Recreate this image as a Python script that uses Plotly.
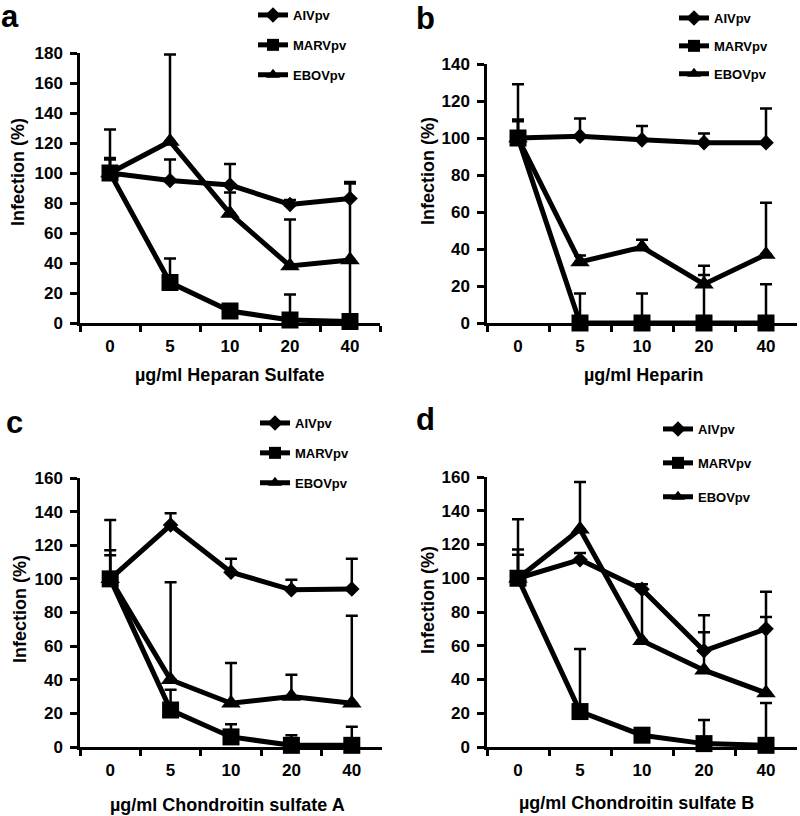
import plotly.graph_objects as go

# ---------------- data ----------------
conc = ["0", "5", "10", "20", "40"]
series_names = ["AIVpv", "MARVpv", "EBOVpv"]

a_aiv = [100, 95, 92, 79, 83]
a_aiv_err = [10, 14, 14, 3, 10]
a_marv = [100, 27, 8, 2, 1]
a_marv_err = [29, 16, 4, 17, 40]
a_ebov = [100, 121, 73, 38, 42]
a_ebov_err = [9, 58, 14, 31, 52]

b_aiv = [100, 101, 99, 97.5, 97.5]
b_aiv_err = [10, 9.5, 7.5, 5, 18.5]
b_marv = [100, 0, 0, 0, 0]
b_marv_err = [29, 16, 16, 26, 21]
b_ebov = [100, 33, 41, 21, 37]
b_ebov_err = [9, 3.5, 4, 10, 28]

c_aiv = [100, 132, 104, 93.5, 94]
c_aiv_err = [35, 7, 8, 6, 18]
c_marv = [100, 22, 6, 1, 1]
c_marv_err = [17, 12, 7.5, 6, 11]
c_ebov = [100, 40, 26, 30, 26]
c_ebov_err = [14, 58, 24, 13, 52]

d_aiv = [100, 111, 93.5, 57, 70]
d_aiv_err = [35, 4, 3, 21, 22]
d_marv = [100, 21, 7, 2, 1]
d_marv_err = [17, 37, 3, 14, 25]
d_ebov = [100, 129, 63, 45.5, 32]
d_ebov_err = [14, 28, 30, 22.5, 45]

panel_letters = ["a", "b", "c", "d"]
x_titles = ["µg/ml Heparan Sulfate", "µg/ml Heparin",
            "µg/ml Chondroitin sulfate A", "µg/ml Chondroitin sulfate B"]
y_max = [180, 140, 160, 160]

panels = [
    [(a_aiv, a_aiv_err), (a_marv, a_marv_err), (a_ebov, a_ebov_err)],
    [(b_aiv, b_aiv_err), (b_marv, b_marv_err), (b_ebov, b_ebov_err)],
    [(c_aiv, c_aiv_err), (c_marv, c_marv_err), (c_ebov, c_ebov_err)],
    [(d_aiv, d_aiv_err), (d_marv, d_marv_err), (d_ebov, d_ebov_err)],
]

# ---------------- layout geometry (pixels) ----------------
W, H = 800, 816
FONT = "Liberation Sans, Arial, sans-serif"
# (x0, x1, y_bottom, y_top) in pixels
boxes = [(80, 380, 323, 53), (487, 797, 323, 64),
         (80, 382, 747, 478), (487, 797, 747, 477)]
legend_pos = [(253, 0), (674, 3), (255, 408), (658, 414)]
legend_gap = [10, 8, 10, 14]
letter_pos = [(10, 16), (425, 18), (14, 422), (425, 420)]
xtitle_pos = [(230, 375), (643, 375), (228, 805), (636, 803)]
ytitle_pos = [(18, 172), (428, 171), (20, 609), (428, 600)]

symbols = ["diamond", "square", "triangle-up"]
sizes = [12, 17, 17]

fig = go.Figure()
layout = dict(width=W, height=H,
              margin=dict(l=0, r=0, t=0, b=0, autoexpand=False),
              paper_bgcolor="white", plot_bgcolor="white",
              font=dict(family=FONT, color="black", size=17, weight="bold"),
              showlegend=True, annotations=[])

for p in range(4):
    xa = "x" if p == 0 else f"x{p+1}"
    ya = "y" if p == 0 else f"y{p+1}"
    lg = "legend" if p == 0 else f"legend{p+1}"
    for s in range(3):
        vals, errs = panels[p][s]
        fig.add_trace(go.Scatter(
            x=conc, y=vals, name=series_names[s], mode="lines+markers",
            xaxis=xa, yaxis=ya, legend=lg,
            line=dict(color="black", width=5),
            marker=dict(symbol=symbols[s], size=sizes[s], color="black"),
            error_y=dict(type="data", array=errs, arrayminus=[0] * len(errs),
                         symmetric=False, color="black", thickness=2.5, width=6),
            legendgroup=f"{p}-{s}", cliponaxis=False,
        ))
    x0, x1, yb, yt = boxes[p]
    axk = "xaxis" if p == 0 else f"xaxis{p+1}"
    ayk = "yaxis" if p == 0 else f"yaxis{p+1}"
    layout[axk] = dict(domain=[x0 / W, x1 / W], anchor=ya, type="category",
                       range=[-0.5, 4.5], tickson="boundaries", ticks="outside",
                       ticklen=6, tickwidth=2.5, tickcolor="black",
                       showline=True, linecolor="black", linewidth=2.5,
                       showgrid=False, zeroline=False, ticklabelstandoff=6,
                       tickfont=dict(size=17, family=FONT, weight="bold"))
    layout[ayk] = dict(domain=[1 - yb / H, 1 - yt / H], anchor=xa,
                       range=[0, y_max[p]], dtick=20, ticks="outside",
                       ticklen=7, tickwidth=2.5, tickcolor="black",
                       showline=True, linecolor="black", linewidth=2.5,
                       showgrid=False, zeroline=False, ticklabelstandoff=4,
                       tickfont=dict(size=17, family=FONT, weight="bold"))
    lx, ly = legend_pos[p]
    layout[lg] = dict(x=lx / W, y=1 - ly / H, xanchor="left", yanchor="top",
                      bgcolor="rgba(0,0,0,0)", tracegroupgap=legend_gap[p],
                      itemsizing="constant",
                      font=dict(size=13, family=FONT, weight="bold"))
    lx, ly = letter_pos[p]
    layout["annotations"].append(dict(
        text=panel_letters[p], x=lx / W, y=1 - ly / H, xref="paper", yref="paper",
        xanchor="center", yanchor="middle", showarrow=False,
        font=dict(size=31, family=FONT, weight="bold")))
    tx, ty = xtitle_pos[p]
    layout["annotations"].append(dict(
        text=x_titles[p], x=tx / W, y=1 - ty / H, xref="paper", yref="paper",
        xanchor="center", yanchor="middle", showarrow=False,
        font=dict(size=18, family=FONT, weight="bold")))
    tx, ty = ytitle_pos[p]
    layout["annotations"].append(dict(
        text="Infection (%)", x=tx / W, y=1 - ty / H, xref="paper", yref="paper",
        xanchor="center", yanchor="middle", showarrow=False, textangle=-90,
        font=dict(size=18, family=FONT, weight="bold")))

fig.update_layout(**layout)
fig.write_html("out.html", config={"displayModeBar": False},
               post_script="document.body.style.margin='0';document.body.style.padding='0';")
